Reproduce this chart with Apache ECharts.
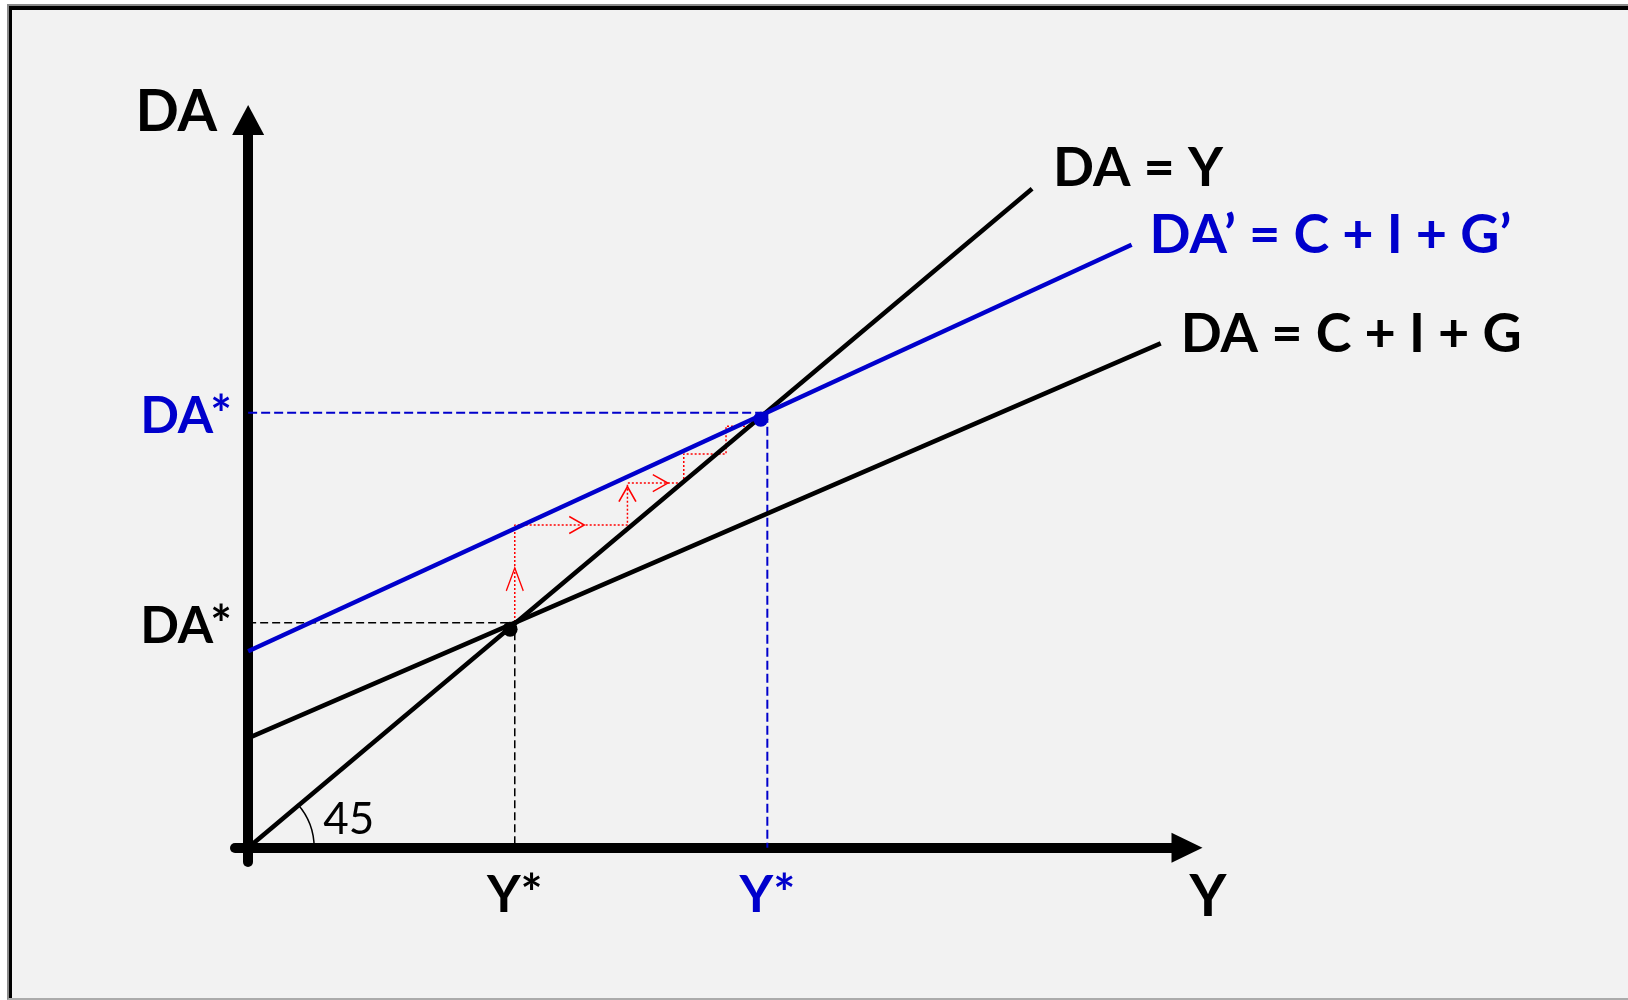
<!DOCTYPE html>
<html>
<head>
<meta charset="utf-8">
<script src="https://cdn.jsdelivr.net/npm/echarts@6/dist/echarts.min.js"></script>
<style>
html, body { margin: 0; padding: 0; background: #fff; overflow: hidden; }
#frame {
	position: absolute; left: 7px; top: 4px; width: 1640px; height: 996px;
	box-sizing: border-box; background: #f2f2f2;
	border-top: 2px solid #8a8a8a; border-left: 2px solid #8a8a8a; border-bottom: 2px solid #ababab;
	box-shadow: inset 3px 4px 0 #000;
}
#main { position: absolute; left: 0; top: 0; width: 1628px; height: 1000px; }
</style>
</head>
<body>
<div id="frame"></div>
<div id="main"></div>
<script>
// Keynesian cross: shift of DA after a rise in G
const BLUE = '#0000cc';
const RED = '#ff0000';

// lines (start / end points, Y on x axis, DA on y axis)
const daEqY = [[0, 0], [83.5, 83.5]];        // DA = Y, 45°
const daOld = [[0, 13.9], [97.2, 63.9]];     // DA = C + I + G
const daNew = [[0, 24.9], [94.1, 76.4]];     // DA' = C + I + G'
const curveNames = ['DA = Y', 'DA’ = C + I + G’', 'DA = C + I + G'];

// equilibria
const eqOld = [27.9, 27.7];
const eqNew = [54.6, 54.3];
const yStar = [28.4, 55.3];   // Y* old, Y* new
const daStar = [28.5, 55.1];  // DA* old, DA* new

// multiplier staircase (red dotted)
const stepX = [28.4, 28.4, 40.4, 40.4, 46.4, 46.4, 50.9, 50.9, 53.7];
const stepY = [28.6, 40.9, 40.9, 46.2, 46.2, 49.9, 49.9, 53.4, 53.4];
const arrowUp = [[28.4, 34.0], [40.4, 44.8]];
const arrowRight = [[35.0, 40.9], [43.9, 46.2]];

const X_MAX = 100;
const FONT = 'Lato, "Open Sans", sans-serif';

const chart = echarts.init(document.getElementById('main'));

const guide = (i) => [[0, daStar[i]], [yStar[i], daStar[i]], [yStar[i], 0]];
const chevron = 'path://M0,24L10,0L20,24';
const bigText = (color, offset, size) => ({
	show: true, position: 'right', distance: 0, offset: offset,
	color: color, fontSize: size || 54, fontWeight: 'bold', fontFamily: FONT,
});

const option = {
	backgroundColor: 'transparent',
	animation: false,
	textStyle: { fontFamily: FONT },
	grid: { left: 235, top: 120, width: 952, height: 742, containLabel: false, outerBoundsMode: 'none' },
	xAxis: {
		type: 'value',
		min: -1.4,
		max: X_MAX,
		splitLine: { show: false },
		axisTick: { show: false },
		axisLine: {
			onZero: true,
			symbol: ['none', 'triangle'],
			symbolSize: [30, 31],
			lineStyle: { color: '#000', width: 10 },
		},
		axisLabel: {
			customValues: yStar,
			margin: 7,
			fontSize: 52,
			fontWeight: 'bold',
			fontFamily: FONT,
			formatter: (v) => (Math.abs(v - yStar[0]) < 0.01 ? '{k|Y*}' : '{b|Y*}'),
			rich: { k: { color: '#000' }, b: { color: BLUE } },
		},
	},
	yAxis: {
		type: 'value',
		min: -1.8,
		max: 92.2,
		splitLine: { show: false },
		axisTick: { show: false },
		axisLine: {
			onZero: true,
			symbol: ['none', 'triangle'],
			symbolSize: [32, 30],
			lineStyle: { color: '#000', width: 10 },
		},
		axisLabel: {
			customValues: daStar,
			margin: 3,
			fontSize: 51,
			fontWeight: 'bold',
			fontFamily: FONT,
			padding: [8, 0, 0, 0],
			formatter: (v) => (Math.abs(v - daStar[0]) < 0.01 ? '{k|DA*}' : '{b|DA*}'),
			rich: { k: { color: '#000' }, b: { color: BLUE } },
		},
		name: 'DA',
		nameLocation: 'end',
		nameGap: 7,
		nameMoveOverlap: false,
		nameTextStyle: {
			color: '#000', fontSize: 57, fontWeight: 'bold', fontFamily: FONT,
			align: 'right', verticalAlign: 'middle', padding: [0, 31, 0, 0],
		},
	},
	series: [
		{
			type: 'line', data: guide(0), symbol: 'none', z: 3, silent: true,
			lineStyle: { color: '#000', width: 1.5, type: [8, 4] },
		},
		{
			type: 'line', data: guide(1), symbol: 'none', z: 3, silent: true,
			lineStyle: { color: BLUE, width: 2, type: [9, 4] },
		},
		{
			type: 'line', data: stepX.map((x, i) => [x, stepY[i]]), symbol: 'none', z: 3, silent: true,
			lineStyle: { color: RED, width: 1.5, type: [2, 2] },
		},
		{
			type: 'scatter', z: 4, silent: true, symbol: chevron,
			itemStyle: { color: 'none', borderColor: RED, borderWidth: 1.5, opacity: 1 },
			data: [
				{ value: arrowUp[0], symbolSize: [17, 23] },
				{ value: arrowUp[1], symbolSize: [17, 15] },
				{ value: arrowRight[0], symbolSize: [17, 15], symbolRotate: -90 },
				{ value: arrowRight[1], symbolSize: [17, 15], symbolRotate: -90 },
			],
		},
		{
			type: 'line', data: daEqY, symbol: 'none', z: 5, silent: true,
			lineStyle: { color: '#000', width: 4.5 },
		},
		{
			type: 'line', data: daOld, symbol: 'none', z: 5, silent: true,
			lineStyle: { color: '#000', width: 4.5 },
		},
		{
			type: 'line', data: daNew, symbol: 'none', z: 5, silent: true,
			lineStyle: { color: BLUE, width: 4.5 },
		},
		{
			type: 'scatter', z: 6, silent: true, symbolSize: 15,
			itemStyle: { opacity: 1 },
			data: [
				{ value: eqOld, itemStyle: { color: '#000', opacity: 1 } },
				{ value: eqNew, itemStyle: { color: BLUE, opacity: 1 } },
			],
		},
		{
			// curve names at the end of each line, and the Y axis title at the arrow
			type: 'scatter', z: 6, silent: true, symbolSize: 0,
			itemStyle: { opacity: 1 },
			label: { show: true, formatter: (p) => p.name },
			data: [
				{ name: curveNames[0], value: daEqY[1], label: bigText('#000', [21, -20]) },
				{ name: curveNames[1], value: daNew[1], label: bigText(BLUE, [18, -9]) },
				{ name: curveNames[2], value: daOld[1], label: bigText('#000', [20, -9]) },
				{ name: 'Y', value: [X_MAX, 0], label: Object.assign(bigText('#000', [21, 50], 57), { position: 'inside' }) },
			],
		},
		{
			// 45 degree mark at the origin
			type: 'custom', z: 6, silent: true, clip: false,
			data: [[0, 0]],
			renderItem: (params, api) => {
				const o = api.coord([api.value(0), api.value(1)]);
				return {
					type: 'group',
					children: [
						{
							type: 'arc',
							shape: { cx: o[0], cy: o[1], r: 66, startAngle: -0.72, endAngle: 0 },
							style: { stroke: '#000', fill: null, lineWidth: 1.5 },
						},
						{
							type: 'text',
							x: o[0] + 75,
							y: o[1] - 28,
							style: {
								text: '45', fill: '#000', font: '44px ' + FONT,
								textAlign: 'left', textVerticalAlign: 'middle',
							},
						},
					],
				};
			},
		},
	],
};

chart.setOption(option);
</script>
</body>
</html>
